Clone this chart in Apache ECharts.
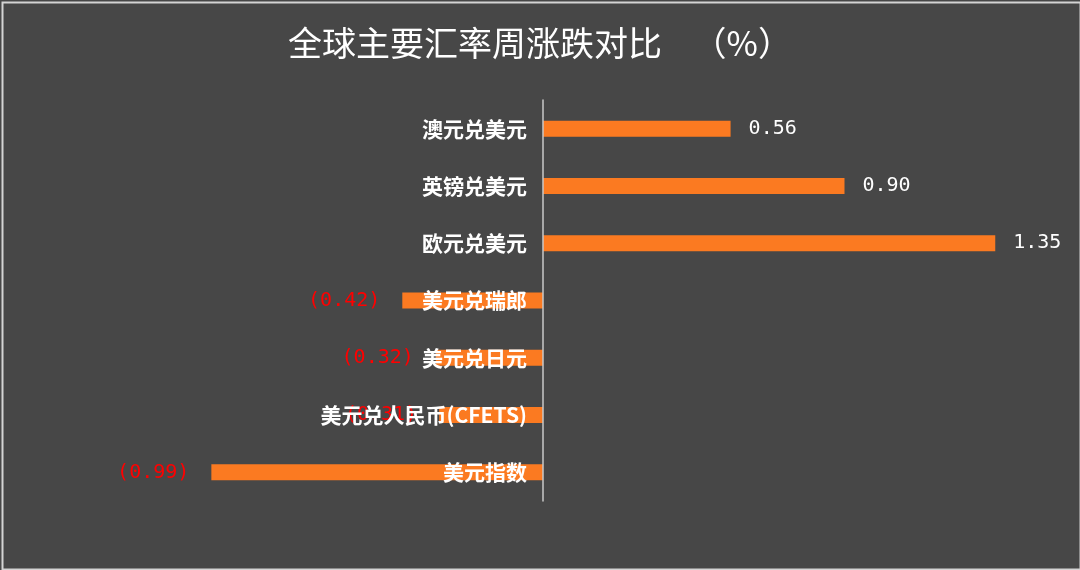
<!DOCTYPE html>
<html>
<head>
<meta charset="utf-8">
<script src="https://cdn.jsdelivr.net/npm/echarts@6/dist/echarts.min.js"></script>
<style>
html,body{margin:0;padding:0;background:#474747;}
#main{width:1080px;height:570px;}
</style>
</head>
<body>
<div id="main"></div>
<script>
const categories = ['澳元兑美元','英镑兑美元','欧元兑美元','美元兑瑞郎','美元兑日元','美元兑人民币(CFETS)','美元指数'];
const values = [0.56, 0.90, 1.35, -0.42, -0.32, -0.31, -0.99];
const titleText = '全球主要汇率周涨跌对比    （%）';

const chart = echarts.init(document.getElementById('main'));
const fmt = v => v < 0 ? '(' + Math.abs(v).toFixed(2) + ')' : v.toFixed(2);

const xMin = -1, xMax = 1.5, gridLeft = 208, gridRight = 34.5;
const zeroX = gridLeft + (0 - xMin) / (xMax - xMin) * (1080 - gridLeft - gridRight);

chart.setOption({
  backgroundColor: '#474747',
  animation: false,
  title: {
    text: titleText,
    left: 'center',
    top: 21,
    textStyle: {color: '#ffffff', fontSize: 34, fontWeight: 'normal', fontFamily: 'Noto Sans CJK SC'}
  },
  graphic: [{
    type: 'rect', left: 0, top: 0,
    shape: {x: 1, y: 1, width: 1078, height: 567},
    style: {fill: 'none', stroke: '#d4d4d4', lineWidth: 2},
    silent: true
  }],
  grid: {left: gridLeft, right: gridRight, top: 100, height: 401, containLabel: false},
  xAxis: {
    type: 'value', min: xMin, max: xMax,
    show: false, splitLine: {show: false}
  },
  yAxis: {
    type: 'category', data: categories, inverse: true,
    axisLine: {show: true, onZero: true, lineStyle: {color: '#c8c8c8', width: 1.5}},
    axisTick: {show: false},
    axisLabel: {color: '#ffffff', fontSize: 21, fontWeight: 'bold', fontFamily: 'Noto Sans CJK SC',
      margin: -(zeroX - gridLeft - 16)},
    z: 10
  },
  series: [{
    type: 'bar',
    data: values.map(v => ({
      value: v,
      label: {
        show: true,
        position: v < 0 ? 'left' : 'right',
        distance: v < 0 ? 22 : 18,
        color: v < 0 ? '#ff0000' : '#ffffff',
        fontSize: 20,
        fontFamily: 'DejaVu Sans Mono',
        formatter: p => fmt(p.value)
      }
    })),
    barWidth: 16,
    itemStyle: {color: '#FB7A21'},
    z: 2
  }]
});
</script>
</body>
</html>
